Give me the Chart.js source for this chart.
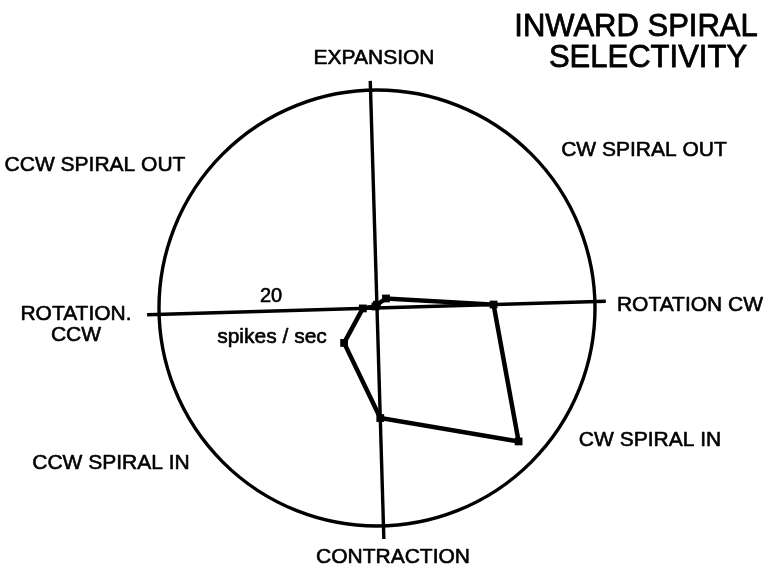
<!DOCTYPE html>
<html><head><meta charset="utf-8">
<script src="https://cdn.jsdelivr.net/npm/chart.js@4/dist/chart.umd.min.js"></script>
<style>html,body{margin:0;padding:0;background:#fff;} #wrap{position:relative;width:777px;height:569px;}</style>
</head><body><div id="wrap"><canvas id="c"></canvas></div>
<script>
// ---- data ----
const categories = ['EXPANSION', 'CW SPIRAL OUT', 'ROTATION CW', 'CW SPIRAL IN', 'CONTRACTION', 'CCW SPIRAL IN', 'ROTATION CCW', 'CCW SPIRAL OUT'];
const firingRate = [0.6, 2.4, 21.4, 35.7, 20.2, 8.8, 2.6, 0.4];
const scaleMax = 40;
const scaleTickLabel = '20';
const scaleUnitLabel = 'spikes / sec';
const titleLines = ['INWARD SPIRAL', 'SELECTIVITY'];
const categoryText = [['EXPANSION'], ['CW SPIRAL OUT'], ['ROTATION CW'], ['CW SPIRAL IN'], ['CONTRACTION'], ['CCW SPIRAL IN'], ['ROTATION.', 'CCW'], ['CCW SPIRAL OUT']];

// ---- layout (pixel offsets from chart centre) ----
const labelOffsets = [[-3, -250], [267, -158], [313, -3], [273, 132], [16, 249], [-266, 155], [-301, 6], [-282, -143]];
const axisExtent = [41.7, 42.0, 42.4, 42.2]; // up, right, down, left (in scale units)

const FONT = '"Liberation Sans", Arial, Helvetica, sans-serif';

function heavyText(ctx, t, x, y) {
  ctx.fillText(t, x, y);
  ctx.strokeText(t, x, y);
}

const decor = {
  id: 'decor',
  beforeDatasetsDraw(chart) {
    const r = chart.scales.r;
    const ctx = chart.ctx;
    ctx.save();
    ctx.strokeStyle = '#000';
    ctx.lineWidth = 3.4;
    ctx.lineCap = 'butt';
    let a = r.getPointPositionForValue(0, axisExtent[0]);
    let b = r.getPointPositionForValue(4, axisExtent[2]);
    ctx.beginPath(); ctx.moveTo(a.x, a.y); ctx.lineTo(b.x, b.y); ctx.stroke();
    a = r.getPointPositionForValue(2, axisExtent[1]);
    b = r.getPointPositionForValue(6, axisExtent[3]);
    ctx.beginPath(); ctx.moveTo(a.x, a.y); ctx.lineTo(b.x, b.y); ctx.stroke();
    ctx.restore();
  },
  afterDraw(chart) {
    const r = chart.scales.r;
    const ctx = chart.ctx;
    const cx = r.xCenter, cy = r.yCenter;
    ctx.save();
    ctx.fillStyle = '#000';
    ctx.strokeStyle = '#000';
    ctx.lineWidth = 0.6;
    ctx.lineJoin = 'round';
    ctx.textAlign = 'center';
    ctx.textBaseline = 'middle';
    ctx.font = '21px ' + FONT;
    categoryText.forEach((lines, i) => {
      const [dx, dy] = labelOffsets[i];
      lines.forEach((t, j) => heavyText(ctx, t, cx + dx, cy + dy + j * 21));
    });
    ctx.font = '20px ' + FONT;
    heavyText(ctx, scaleTickLabel, cx - 106, cy - 12);
    ctx.font = '21px ' + FONT;
    heavyText(ctx, scaleUnitLabel, cx - 105, cy + 29);
    ctx.font = '31px ' + FONT;
    ctx.lineWidth = 0.8;
    heavyText(ctx, titleLines[0], 636, 27);
    heavyText(ctx, titleLines[1], 648, 58);
    ctx.restore();
  }
};

new Chart(document.getElementById('c'), {
  type: 'radar',
  data: {
    labels: categories,
    datasets: [{
      data: firingRate,
      borderColor: '#000',
      borderWidth: 4.5,
      backgroundColor: '#000',
      fill: false,
      pointStyle: 'rect',
      pointRadius: 5.5,
      pointBackgroundColor: '#000',
      pointBorderWidth: 0,
      tension: 0
    }]
  },
  options: {
    responsive: true,
    maintainAspectRatio: false,
    animation: false,
    layout: { padding: { left: 159, right: 182, top: 90, bottom: 43 } },
    plugins: { legend: { display: false }, tooltip: { enabled: false }, title: { display: false } },
    scales: {
      r: {
        min: 0,
        max: scaleMax,
        startAngle: -1.7,
        ticks: { display: false, stepSize: scaleMax },
        grid: { circular: true, color: '#000', lineWidth: 3.4 },
        angleLines: { display: false },
        pointLabels: { display: false }
      }
    }
  },
  plugins: [decor]
});
</script>
</body></html>
